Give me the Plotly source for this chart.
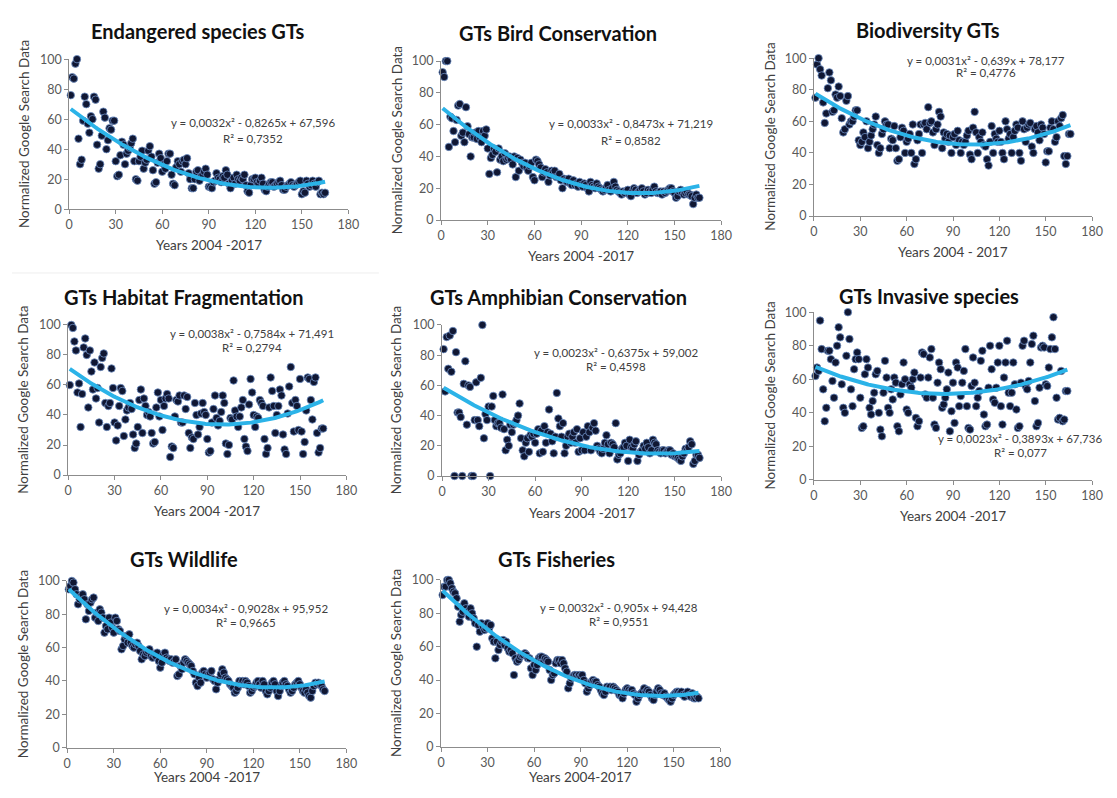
import numpy as np
import plotly.graph_objects as go

# ---------------- DATA (monthly values, 2004-2017) ----------------
endangered = [76,88,87,97,100,47,30,33,59,75,
              70,57,51,62,60,75,73,43,27,30,
              49,65,61,40,46,54,53,59,59,32,
              22,23,36,45,43,30,37,39,41,44,
              47,32,20,19,32,35,39,27,31,33,
              39,42,35,26,17,18,31,37,34,25,
              30,27,32,37,37,23,17,16,28,32,
              30,25,32,33,30,34,24,20,14,14,
              20,25,26,19,22,23,25,27,23,15,
              15,14,18,19,24,21,20,18,22,21,
              26,23,17,14,19,21,17,23,20,19,
              21,20,23,16,12,11,16,20,20,21,
              18,17,19,21,17,13,12,15,17,18,
              18,15,16,17,18,19,16,13,13,15,
              16,17,18,16,15,16,17,18,19,10,
              12,11,19,17,15,16,19,17,15,18,
              19,10,11,10,11]

bird = [93,90,100,100,46,65,64,56,49,63,
        72,73,53,55,49,71,59,54,40,52,
        52,55,51,56,52,49,56,53,57,45,
        29,39,41,45,43,30,45,38,40,37,
        42,38,39,40,38,35,40,27,39,31,
        38,36,34,36,33,31,34,36,27,25,
        38,37,35,33,27,30,32,30,24,28,
        31,30,31,27,27,29,25,20,26,25,
        24,26,23,22,25,22,23,21,24,22,
        21,23,22,20,18,24,22,21,20,23,
        21,20,19,18,19,20,22,19,18,20,
        24,21,19,18,17,16,18,17,18,19,
        16,15,18,20,19,17,18,19,20,18,
        16,17,19,18,17,19,21,18,17,17,
        18,16,18,17,18,19,20,20,18,17,
        14,15,18,19,17,16,17,18,16,16,
        15,10,14,16,14,14]

biodiversity = [75,96,100,93,89,72,59,65,81,91,
                86,66,67,77,75,82,76,62,53,55,
                73,76,58,60,60,63,67,67,48,45,
                47,53,50,60,43,47,51,55,58,63,
                45,40,43,52,55,60,58,58,43,49,
                48,57,43,35,36,50,56,54,40,47,
                49,52,40,58,33,36,48,52,58,40,
                58,59,55,69,59,60,53,45,55,58,
                66,63,43,53,49,52,47,51,40,50,
                52,45,54,48,40,47,45,47,51,54,
                39,36,56,66,53,40,50,47,53,45,
                44,36,32,47,57,40,52,49,47,54,
                47,40,36,60,55,49,52,40,50,54,
                58,56,40,35,60,55,47,56,58,59,
                44,40,55,57,53,48,58,56,52,34,
                41,41,56,60,55,47,50,60,57,62,
                64,38,33,38,52,52]

habitat = [60,100,98,89,83,55,61,32,54,85,
           91,80,45,83,69,57,75,51,58,35,
           72,78,81,48,32,46,48,71,58,35,
           23,33,46,58,56,26,37,43,45,48,
           44,27,18,21,32,50,57,28,51,46,
           40,42,39,28,21,22,45,55,39,50,
           30,46,51,54,51,12,19,18,39,50,
           49,53,35,35,53,44,52,28,18,25,
           24,48,40,27,32,41,48,42,40,24,
           15,16,35,44,53,38,33,36,42,53,
           48,21,14,20,38,37,63,43,39,32,
           39,45,50,24,19,16,47,64,55,40,
           32,39,38,50,48,46,24,14,18,45,
           65,56,46,28,40,46,57,53,27,17,
           14,41,59,72,48,29,50,46,30,64,
           29,14,22,43,65,64,50,37,62,65,
           28,15,18,31,31]

amphibian = [84,56,92,71,93,69,96,0,82,42,
             42,39,0,61,76,34,60,59,0,0,
             37,62,37,33,65,100,25,41,37,46,
             0,46,53,37,33,35,35,32,54,31,
             17,24,20,34,29,34,35,37,40,48,
             25,17,13,22,25,16,27,26,28,22,
             28,31,15,30,16,33,22,29,44,28,
             23,15,26,55,38,33,26,35,15,20,
             26,28,22,26,29,22,31,16,25,17,
             29,17,26,33,29,17,32,35,30,20,
             18,16,15,18,22,27,21,15,22,21,
             19,35,11,14,15,18,19,22,20,10,
             24,19,18,21,23,10,14,16,17,20,
             18,22,19,15,17,24,22,21,17,16,
             15,17,17,15,16,17,17,14,15,13,
             13,12,11,10,13,15,18,17,19,23,
             21,8,10,14,14,12]

invasive = [62,67,65,95,78,54,35,43,77,77,
            72,59,49,70,80,91,85,57,43,40,
            74,100,84,54,44,66,72,76,72,49,
            31,32,63,72,67,43,39,47,52,63,
            65,40,30,26,52,71,61,43,40,54,
            48,61,58,32,29,51,57,70,60,42,
            40,57,55,60,64,37,32,35,61,76,
            75,51,49,61,73,78,49,33,31,58,
            70,66,43,45,49,54,64,29,41,58,
            34,70,67,44,50,58,65,78,44,31,
            30,56,73,58,44,49,53,71,77,39,
            32,33,55,80,66,48,46,55,70,80,
            44,33,61,70,83,52,44,52,70,57,
            42,31,32,58,80,83,56,54,59,70,
            81,86,47,32,34,55,79,80,79,57,
            56,67,78,85,97,78,49,36,37,65,
            35,36,53,53]

wildlife = [95,97,100,99,95,92,86,89,91,92,
            89,77,86,82,87,89,90,78,81,76,
            83,81,78,69,73,71,78,75,72,69,
            78,76,71,70,59,61,65,67,63,68,
            63,61,60,62,63,61,58,53,56,55,
            57,58,59,55,54,56,55,57,52,48,
            51,56,57,54,53,52,53,51,52,53,
            43,44,49,47,51,53,52,51,50,49,
            46,44,39,37,42,39,45,46,44,42,
            44,45,46,41,40,35,39,41,44,47,
            45,42,41,40,38,37,36,33,34,36,
            40,38,40,38,40,39,37,33,34,36,
            37,39,40,38,36,40,38,34,32,34,
            36,39,40,38,34,31,34,37,39,40,
            38,37,35,33,34,36,38,39,40,38,
            36,34,33,35,33,31,30,34,37,39,
            38,39,38,37,35,34]

fisheries = [91,96,96,100,100,98,95,93,92,89,
             84,75,79,81,86,83,81,78,83,80,
             77,74,60,73,69,74,72,70,71,74,
             71,73,65,63,53,63,58,61,63,64,
             61,63,59,57,58,56,43,53,51,52,
             54,55,55,56,55,53,53,47,43,49,
             46,49,53,54,54,51,53,52,51,46,
             40,43,44,50,52,52,50,52,50,47,
             45,35,38,41,42,43,43,42,43,42,
             43,40,38,33,35,37,39,40,39,39,
             37,36,34,32,31,33,36,35,36,34,
             36,35,34,33,31,31,29,32,34,35,
             34,33,34,32,31,27,29,31,32,33,
             35,33,34,33,31,29,28,31,33,35,
             34,32,31,32,30,29,28,27,29,31,
             32,33,33,32,33,31,30,32,33,31,
             30,32,29,29,30,29]

series = [endangered, bird, biodiversity, habitat, amphibian, invasive, wildlife, fisheries]

titles = ["Endangered species GTs", "GTs Bird Conservation", "Biodiversity GTs",
          "GTs Habitat Fragmentation", "GTs Amphibian Conservation", "GTs Invasive species",
          "GTs Wildlife", "GTs Fisheries"]

# quadratic trendline coefficients (a, b, c) as printed on the chart
coef_a = [0.0032, 0.0033, 0.0031, 0.0038, 0.0023, 0.0023, 0.0034, 0.0032]
coef_b = [-0.8265, -0.8473, -0.639, -0.7584, -0.6375, -0.3893, -0.9028, -0.905]
coef_c = [67.596, 71.219, 78.177, 71.491, 59.002, 67.736, 95.952, 94.428]

equations = ["y = 0,0032x\u00b2 - 0,8265x + 67,596", "y = 0,0033x\u00b2 - 0,8473x + 71,219",
             "y = 0,0031x\u00b2 - 0,639x + 78,177", "y = 0,0038x\u00b2 - 0,7584x + 71,491",
             "y = 0,0023x\u00b2 - 0,6375x + 59,002", "y = 0,0023x\u00b2 - 0,3893x + 67,736",
             "y = 0,0034x\u00b2 - 0,9028x + 95,952", "y = 0,0032x\u00b2 - 0,905x + 94,428"]
r2_texts = ["R\u00b2 = 0,7352", "R\u00b2 = 0,8582", "R\u00b2 = 0,4776", "R\u00b2 = 0,2794",
            "R\u00b2 = 0,4598", "R\u00b2 = 0,077", "R\u00b2 = 0,9665", "R\u00b2 = 0,9551"]

x_titles = ["Years 2004 -2017", "Years 2004 -2017", "Years 2004 - 2017", "Years 2004 -2017",
            "Years 2004 -2017", "Years 2004 -2017", "Years 2004 -2017", "Years 2004-2017"]
y_title = "Normalized Google Search Data"
x_ticks = [0, 30, 60, 90, 120, 150, 180]
y_ticks = [0, 20, 40, 60, 80, 100]

# ---------------- LAYOUT (page pixels) ----------------
PAGE_W, PAGE_H = 1117, 798
OFF = 8                      # default body margin of the html page
W, H = PAGE_W - 2 * OFF, PAGE_H - 2 * OFF

boxes = [(66, 349, 205, 52), (443, 727, 216, 54), (821, 1103, 212, 51),
         (65, 347, 476, 323), (444, 727, 477, 323), (821, 1103, 481, 310),
         (64, 347, 754, 584), (443, 726, 753, 583)]
title_pos = [(197, 23), (562, 25), (937, 22), (182, 295), (562, 295), (938, 293), (182, 562), (560, 562)]
eq_pos = [(252, 117, 133), (636, 118, 135), (995, 53, 66), (251, 332, 346),
          (620, 351, 365), (1030, 439, 453), (245, 612, 626), (623, 611, 625)]
xt_y = [241, 253, 249, 513, 515, 518, 784, 784]
yt_x = [20, 398, 777, 19, 398, 777, 19, 398]

FONT = "Lato, Calibri, 'Open Sans', sans-serif"
AXC = "#8c8c8c"
DOT = "#101733"
TREND = "#2bb3e8"

fig = go.Figure()
annotations = []
layout = {}

def px(x):
    return (x - OFF) / W

def py(y):
    return 1 - (y - OFF) / H

for i, ys in enumerate(series):
    n = i + 1
    xs = list(range(1, len(ys) + 1))
    xa = "x" if n == 1 else f"x{n}"
    ya = "y" if n == 1 else f"y{n}"
    fig.add_trace(go.Scatter(x=xs, y=ys, mode="markers", xaxis=xa, yaxis=ya,
                             marker=dict(size=7.5, color=DOT, line=dict(color="#6f8fc4", width=0.8)),
                             cliponaxis=False, hoverinfo="x+y"))
    tx = np.linspace(1, len(ys), 200)
    ty = coef_a[i] * tx ** 2 + coef_b[i] * tx + coef_c[i]
    fig.add_trace(go.Scatter(x=tx, y=ty, mode="lines", xaxis=xa, yaxis=ya,
                             line=dict(color=TREND, width=4), cliponaxis=False, hoverinfo="skip"))
    x0, x1, yb, yt = boxes[i]
    axis_common = dict(showgrid=False, zeroline=False, showline=True, linecolor=AXC, linewidth=1,
                       ticks="outside", ticklen=4, tickcolor=AXC, tickwidth=1,
                       tickfont=dict(family=FONT, size=12.5, color="#595959"), fixedrange=True)
    layout["xaxis" if n == 1 else f"xaxis{n}"] = dict(
        domain=[px(x0), px(x1)], range=[0, 180], tickvals=x_ticks, anchor=ya, **axis_common)
    layout["yaxis" if n == 1 else f"yaxis{n}"] = dict(
        domain=[py(yb), py(yt)], range=[0, 100], tickvals=y_ticks, anchor=xa, **axis_common)

    tx_, ty_ = title_pos[i]
    annotations.append(dict(x=px(tx_), y=py(ty_), xref="paper", yref="paper", text=f"<b>{titles[i]}</b>",
                            showarrow=False, xanchor="center", yanchor="middle",
                            font=dict(family=FONT, size=20, color="#111111")))
    ex, ey1, ey2 = eq_pos[i]
    annotations.append(dict(x=px(ex), y=py(ey1), xref="paper", yref="paper", text=equations[i],
                            showarrow=False, xanchor="center", yanchor="middle",
                            font=dict(family=FONT, size=11.5, color="#404040")))
    annotations.append(dict(x=px(ex), y=py(ey2), xref="paper", yref="paper", text=r2_texts[i],
                            showarrow=False, xanchor="center", yanchor="middle",
                            font=dict(family=FONT, size=11.5, color="#404040")))
    annotations.append(dict(x=px((x0 + x1) / 2), y=py(xt_y[i]), xref="paper", yref="paper", text=x_titles[i],
                            showarrow=False, xanchor="center", yanchor="middle",
                            font=dict(family=FONT, size=13.5, color="#404040")))
    annotations.append(dict(x=px(yt_x[i]), y=py((yb + yt) / 2), xref="paper", yref="paper", text=y_title,
                            showarrow=False, xanchor="center", yanchor="middle", textangle=-90,
                            font=dict(family=FONT, size=13.5, color="#404040")))

shapes = [dict(type="line", xref="paper", yref="paper", x0=0, x1=px(380), y0=py(270), y1=py(270),
               line=dict(color="#eeeeee", width=1))]

fig.update_layout(width=W, height=H, margin=dict(l=0, r=0, t=0, b=0),
                  paper_bgcolor="white", plot_bgcolor="white", showlegend=False,
                  annotations=annotations, shapes=shapes, font=dict(family=FONT), **layout)

fig.write_html("out.html", config={"displayModeBar": False})
